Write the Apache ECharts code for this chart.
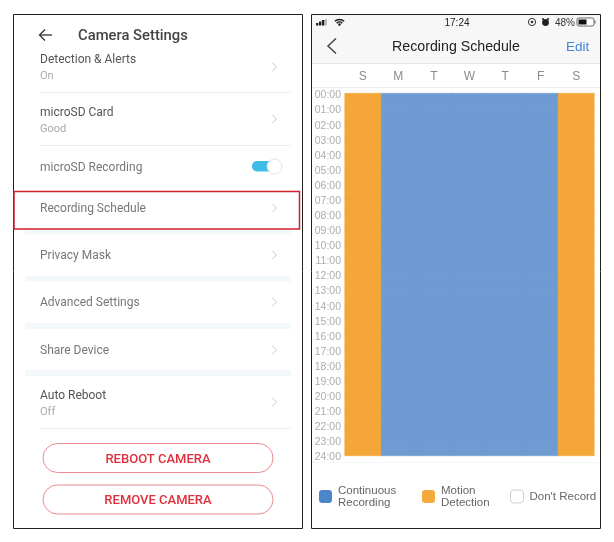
<!DOCTYPE html>
<html>
<head>
<meta charset="utf-8">
<title>Recording Schedule</title>
<style>
html, body { margin: 0; padding: 0; background: #fff; }
#main { width: 614px; height: 542px; }
</style>
<script src="https://cdn.jsdelivr.net/npm/echarts@6/dist/echarts.min.js"></script>
</head>
<body>
<div id="main"></div>
<script>
// schedule chart data
const dayLabels = ['S', 'M', 'T', 'W', 'T', 'F', 'S']
const hourTicks = ['00:00', '01:00', '02:00', '03:00', '04:00', '05:00', '06:00', '07:00', '08:00', '09:00', '10:00', '11:00', '12:00',
    '13:00', '14:00', '15:00', '16:00', '17:00', '18:00', '19:00', '20:00', '21:00', '22:00', '23:00', '24:00']
const hourSlots = hourTicks.slice(0, 24)
const motionDays = [0, 6]
const continuousDays = [1, 2, 3, 4, 5]
const noRecordDays = []

// text of the phone screens
const leftTitle = 'Camera Settings'
const rightTitle = 'Recording Schedule'
const twoLineRows = [['Detection & Alerts', 'On'], ['microSD Card', 'Good'], ['Auto Reboot', 'Off']]
const oneLineRows = ['microSD Recording', 'Recording Schedule', 'Privacy Mask', 'Advanced Settings', 'Share Device']
const buttonLabels = ['REBOOT CAMERA', 'REMOVE CAMERA']

const leftFont = 'Roboto, sans-serif'
const rightFont = '"Liberation Sans", sans-serif'

function cellsFor(days) {
    const cells = []
    days.forEach(function (d) {
        hourSlots.forEach(function (h, i) {
            cells.push([d, i, 1])
        })
    })
    return cells
}

function text(str, x, y, size, color, family, weight, align) {
    return {
        type: 'text',
        style: {
            // middle alignment sits about 1px high here
            text: str, x: x, y: y + 1, fill: color,
            font: (weight || 'normal') + ' ' + size + 'px ' + family,
            align: align || 'left', verticalAlign: 'middle'
        }
    }
}
function rect(x, y, w, h, fill, stroke, lineWidth, r) {
    return {
        type: 'rect',
        shape: { x: x, y: y, width: w, height: h, r: r || 0 },
        style: { fill: fill || 'none', stroke: stroke || 'none', lineWidth: lineWidth || 0 }
    }
}
function poly(points, stroke, lineWidth) {
    return { type: 'polyline', shape: { points: points }, style: { fill: 'none', stroke: stroke, lineWidth: lineWidth } }
}
function chevron(y) {
    return poly([[272, y - 4.5], [276.5, y], [272, y + 4.5]], '#c9c9c9', 1)
}

const rowY = [59, 112, 395]
const rowChevron = [67, 119, 402]
const plainY = [167, 208, 255, 302, 350]
const dividerY = [92.5, 145.5, 428.5]
const bandY = [[229.5, 5], [276, 5.5], [323, 6], [370, 6]]
const buttonY = [[443.5, 29, 459], [485, 29, 500]]

const graphics = []

// left panel
graphics.push(rect(13.5, 14.5, 289, 514, '#fff', '#231f20', 1))
graphics.push(poly([[52, 35], [39.5, 35]], '#333', 1.3), poly([[45, 29.5], [39.5, 35], [45, 40.5]], '#333', 1.3))
graphics.push(text(leftTitle, 78, 35, 14.8, '#444', leftFont, '500'))
bandY.forEach(function (b) { graphics.push(rect(25, b[0], 266, b[1], '#f3f8fa')) })
dividerY.forEach(function (y) { graphics.push(rect(40, y - 0.5, 251, 1, '#ececec')) })
twoLineRows.forEach(function (row, i) {
    graphics.push(text(row[0], 40, rowY[i], 12, '#555', leftFont))
    graphics.push(text(row[1], 40, rowY[i] + 16, 11, '#aaa', leftFont))
    graphics.push(chevron(rowChevron[i]))
})
oneLineRows.forEach(function (row, i) {
    graphics.push(text(row, 40, plainY[i], 12, '#777', leftFont))
    if (i > 0) graphics.push(chevron(plainY[i]))
})
// toggle
graphics.push(rect(252, 161, 24, 10.5, '#3fbce6', null, 0, 5))
graphics.push({ type: 'circle', shape: { cx: 274.5, cy: 166.5, r: 7.5 }, style: { fill: '#fff', stroke: '#dcdcdc', lineWidth: 0.8 } })
// red highlight
graphics.push(rect(14, 191.5, 285.5, 37.5, 'none', '#d0202e', 1.5))
// buttons
buttonLabels.forEach(function (label, i) {
    graphics.push(rect(43, buttonY[i][0], 230, buttonY[i][1], '#fff', '#ec8a8f', 1, 14.5))
    graphics.push(text(label, 158, buttonY[i][2], 13, '#e0303c', leftFont, '500', 'center'))
})

// right panel
graphics.push(rect(311.5, 14.5, 289, 514, '#fff', '#231f20', 1))
graphics.push(rect(312, 15, 288, 48, '#f7f7f7'))
graphics.push(rect(312, 63, 288, 1, '#e6e6e6'))
graphics.push(rect(312, 87, 288, 1, '#eeeeee'))
graphics.push(rect(312, 462, 288, 1, '#f6f6f6'))
// status bar
graphics.push(rect(316, 23, 2.4, 2.5, '#222'), rect(319, 21.5, 2.4, 4, '#222'), rect(322, 20, 2.4, 5.5, '#222'), rect(325, 19, 2, 6.5, '#bbb'))
graphics.push(
    { type: 'arc', shape: { cx: 339.5, cy: 26, r: 6.6, startAngle: -Math.PI * 0.75, endAngle: -Math.PI * 0.25 }, style: { fill: 'none', stroke: '#222', lineWidth: 1.5 } },
    { type: 'arc', shape: { cx: 339.5, cy: 26, r: 4, startAngle: -Math.PI * 0.75, endAngle: -Math.PI * 0.25 }, style: { fill: 'none', stroke: '#222', lineWidth: 1.5 } },
    { type: 'circle', shape: { cx: 339.5, cy: 24.6, r: 1.3 }, style: { fill: '#222' } }
)
graphics.push(text('17:24', 457, 22, 10, '#222', rightFont, 'normal', 'center'))
graphics.push({ type: 'circle', shape: { cx: 532, cy: 22, r: 3.6 }, style: { fill: 'none', stroke: '#333', lineWidth: 1 } })
graphics.push({ type: 'circle', shape: { cx: 532, cy: 22, r: 1.3 }, style: { fill: '#333' } })
graphics.push({ type: 'circle', shape: { cx: 545.5, cy: 22.5, r: 3.4 }, style: { fill: '#222' } })
graphics.push({ type: 'circle', shape: { cx: 543, cy: 19, r: 1 }, style: { fill: '#222' } })
graphics.push({ type: 'circle', shape: { cx: 548, cy: 19, r: 1 }, style: { fill: '#222' } })
graphics.push(text('48%', 555, 22, 10, '#333', rightFont))
graphics.push(rect(577, 18, 17, 8, '#fff', '#444', 0.8, 2), rect(578.5, 19.5, 8, 5, '#111'), rect(594.5, 20.5, 1, 3, '#666'))
// nav bar
graphics.push(poly([[336, 38.5], [328, 46], [336, 53.5]], '#444', 1.5))
graphics.push(text(rightTitle, 456, 46, 14.2, '#222', rightFont, 'normal', 'center'))
graphics.push(text('Edit', 566, 46, 13.5, '#3f86d8', rightFont))

const legendText = { color: '#666', fontSize: 11.5, lineHeight: 12, fontFamily: rightFont, padding: [0, 0, 0, 1] }

const option = {
    animation: false,
    backgroundColor: '#fff',
    textStyle: { fontFamily: rightFont },
    grid: { left: 345, top: 93.5, width: 249, height: 362 },
    xAxis: {
        type: 'category',
        position: 'top',
        data: dayLabels,
        axisLine: { show: false },
        axisTick: { show: false },
        splitLine: { show: false },
        axisLabel: { color: '#8a8a8a', fontSize: 12, margin: 11, interval: 0 }
    },
    yAxis: [
        // the cells sit between the hour ticks
        { type: 'category', data: hourSlots, inverse: true, show: false },
        {
            type: 'category',
            position: 'left',
            data: hourTicks,
            inverse: true,
            boundaryGap: false,
            axisLine: { show: false },
            axisTick: { show: false },
            splitLine: { show: false },
            axisLabel: {
                interval: 0,
                margin: 4,
                // rich box padding nudges the labels down onto the tick
                formatter: function (v) { return '{t|' + v + '}' },
                rich: { t: { color: '#adadad', fontSize: 10.5, padding: [4, 0, 0, 0] } }
            }
        }
    ],
    legend: [
        {
            left: 319, top: 484.5, padding: 0, selectedMode: false, itemWidth: 13, itemHeight: 13, itemGap: 0,
            textStyle: legendText,
            data: [{ name: 'Continuous\nRecording', icon: 'roundRect', itemStyle: { color: '#4a86c9', borderWidth: 0 } }]
        },
        {
            left: 422, top: 484.5, padding: 0, selectedMode: false, itemWidth: 13, itemHeight: 13, itemGap: 0,
            textStyle: legendText,
            data: [{ name: 'Motion\nDetection', icon: 'roundRect', itemStyle: { color: '#f5a83c', borderWidth: 0 } }]
        },
        {
            left: 510, top: 489.5, padding: 0, selectedMode: false, itemWidth: 13, itemHeight: 13, itemGap: 0,
            textStyle: legendText,
            data: [{ name: "Don't Record", icon: 'roundRect', itemStyle: { color: '#fff', borderColor: '#cfcfcf', borderWidth: 1 } }]
        }
    ],
    series: [
        // same colour border closes the hairline seams between rows
        { name: 'Continuous\nRecording', type: 'heatmap', yAxisIndex: 0, data: cellsFor(continuousDays), itemStyle: { color: '#6e9bd2', borderColor: '#6e9bd2', borderWidth: 0.5 }, silent: true },
        { name: 'Motion\nDetection', type: 'heatmap', yAxisIndex: 0, data: cellsFor(motionDays), itemStyle: { color: '#f4a638', borderColor: '#f4a638', borderWidth: 0.5 }, silent: true },
        { name: "Don't Record", type: 'heatmap', yAxisIndex: 0, data: cellsFor(noRecordDays), itemStyle: { color: '#fff' }, silent: true }
    ],
    graphic: { elements: graphics }
}

const chart = echarts.init(document.getElementById('main'))
chart.setOption(option)
</script>
</body>
</html>
